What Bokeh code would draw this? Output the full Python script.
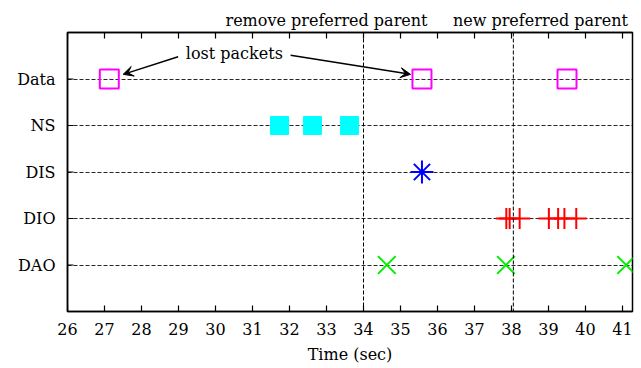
from bokeh.plotting import figure
from bokeh.models import FixedTicker, LinearAxis, Span, Label, Arrow, VeeHead, Range1d, Title
from bokeh.embed import file_html
from bokeh.resources import INLINE

# ---- data ----
categories = ["DAO", "DIO", "DIS", "NS", "Data"]
x_ticks = list(range(26, 42))
data_t = [27.13, 35.58, 39.5]
ns_t = [31.73, 32.62, 33.62]
dis_t = [35.58]
dio_t = [37.86, 37.95, 38.22, 39.01, 39.26, 39.43, 39.75]
dao_t = [34.63, 37.85, 41.1]
event_t = [34.0, 38.05]
event_labels = ["remove preferred parent", "new preferred parent"]
lost_label = "lost packets"

ypos = {c: i + 1 for i, c in enumerate(categories)}
y_ticks = [ypos[c] for c in categories]
FONT = "DejaVu Serif"
FS = "16px"
X0, X1, Y0, Y1 = 26, 41.27, 0, 6

p = figure(width=641, height=368, x_range=Range1d(X0, X1), y_range=Range1d(Y0, Y1),
           output_backend="svg", toolbar_location=None, title=None,
           min_border_left=67, min_border_right=9, min_border_top=32, min_border_bottom=57)
p.background_fill_color = "white"
p.border_fill_color = "white"
p.outline_line_color = "black"
p.outline_line_width = 1.5

# axes
p.xaxis.ticker = FixedTicker(ticks=x_ticks)
p.yaxis.ticker = FixedTicker(ticks=y_ticks)
p.yaxis.major_label_overrides = {ypos[c]: c for c in categories}
for ax in (p.xaxis[0], p.yaxis[0]):
    ax.major_label_text_font = FONT
    ax.major_label_text_font_size = FS
    ax.major_label_text_color = "black"
    ax.major_tick_in = 0
    ax.major_tick_out = 0
    ax.minor_tick_line_color = None
    ax.axis_line_color = "black"
    ax.axis_line_width = 1.5
p.xaxis.major_label_standoff = 11
p.yaxis.major_label_standoff = 12
p.xaxis.axis_label = "Time (sec)"
p.xaxis.axis_label_text_font = FONT
p.xaxis.axis_label_text_font_size = FS
p.xaxis.axis_label_text_font_style = "normal"
p.xaxis.axis_label_text_color = "black"
p.xaxis.axis_label_standoff = 7

top = LinearAxis(ticker=FixedTicker(ticks=x_ticks), major_tick_in=0, major_tick_out=0,
                 minor_tick_line_color=None, major_label_text_font_size="0px",
                 major_label_standoff=0,
                 major_label_text_color=None, axis_line_color="black", axis_line_width=1.5)
p.add_layout(top, "above")

# event labels above the frame (single title line)
gap = "\u00a0" * 5
p.add_layout(Title(text=event_labels[0] + gap + event_labels[1], align="left", offset=158,
                   text_font=FONT, text_font_size=FS, text_font_style="normal",
                   text_color="black", standoff=5), "above")

# inward tick marks (bottom, top, left), length ~6px
tx = 6 / 37.0
ty = 6 / 46.5
p.segment(x0=x_ticks, y0=[Y0] * len(x_ticks), x1=x_ticks, y1=[Y0 + ty] * len(x_ticks),
          line_color="black", line_width=1.2)
p.segment(x0=x_ticks, y0=[Y1] * len(x_ticks), x1=x_ticks, y1=[Y1 - ty] * len(x_ticks),
          line_color="black", line_width=1.2)
p.segment(x0=[X0] * len(y_ticks), y0=y_ticks, x1=[X0 + tx] * len(y_ticks), y1=y_ticks,
          line_color="black", line_width=1.2)

# grid
p.xgrid.visible = False
p.ygrid.ticker = FixedTicker(ticks=y_ticks)
p.ygrid.grid_line_color = "black"
p.ygrid.grid_line_dash = "4 2"
p.ygrid.grid_line_width = 1
p.ygrid.grid_line_alpha = 0.85

for t in event_t:
    p.add_layout(Span(location=t, dimension="height", line_color="black",
                      line_dash="4 2", line_width=1))

# markers
p.scatter(data_t, [ypos["Data"]] * len(data_t), marker="square", size=19,
          fill_color=None, line_color="#ff00ff", line_width=2)
p.scatter(data_t, [ypos["Data"]] * len(data_t), marker="dot", size=4,
          line_color="#ff00ff", fill_color="#ff00ff")
p.scatter(ns_t, [ypos["NS"]] * len(ns_t), marker="square", size=18,
          fill_color="#00ffff", line_color="#00ffff", line_width=1)
p.scatter(dis_t, [ypos["DIS"]] * len(dis_t), marker="asterisk", size=23,
          line_color="#0000ff", line_width=2)
p.scatter(dio_t, [ypos["DIO"]] * len(dio_t), marker="cross", size=21,
          line_color="#ff0000", line_width=2)
p.scatter(dao_t, [ypos["DAO"]] * len(dao_t), marker="x", size=25,
          line_color="#00ee00", line_width=2)

# lost packets annotation
p.add_layout(Label(x=30.51, y=5.54, text=lost_label, text_align="center",
                   text_baseline="middle", text_font=FONT, text_font_size=FS,
                   text_color="black"))
p.add_layout(Arrow(end=VeeHead(size=10, fill_color="black", line_color="black"),
                   x_start=28.99, y_start=5.48, x_end=27.505, y_end=5.10,
                   line_color="black", line_width=1.5))
p.add_layout(Arrow(end=VeeHead(size=10, fill_color="black", line_color="black"),
                   x_start=32.03, y_start=5.51, x_end=35.27, y_end=5.10,
                   line_color="black", line_width=1.5))

open("out.html", "w").write(file_html(p, INLINE))
